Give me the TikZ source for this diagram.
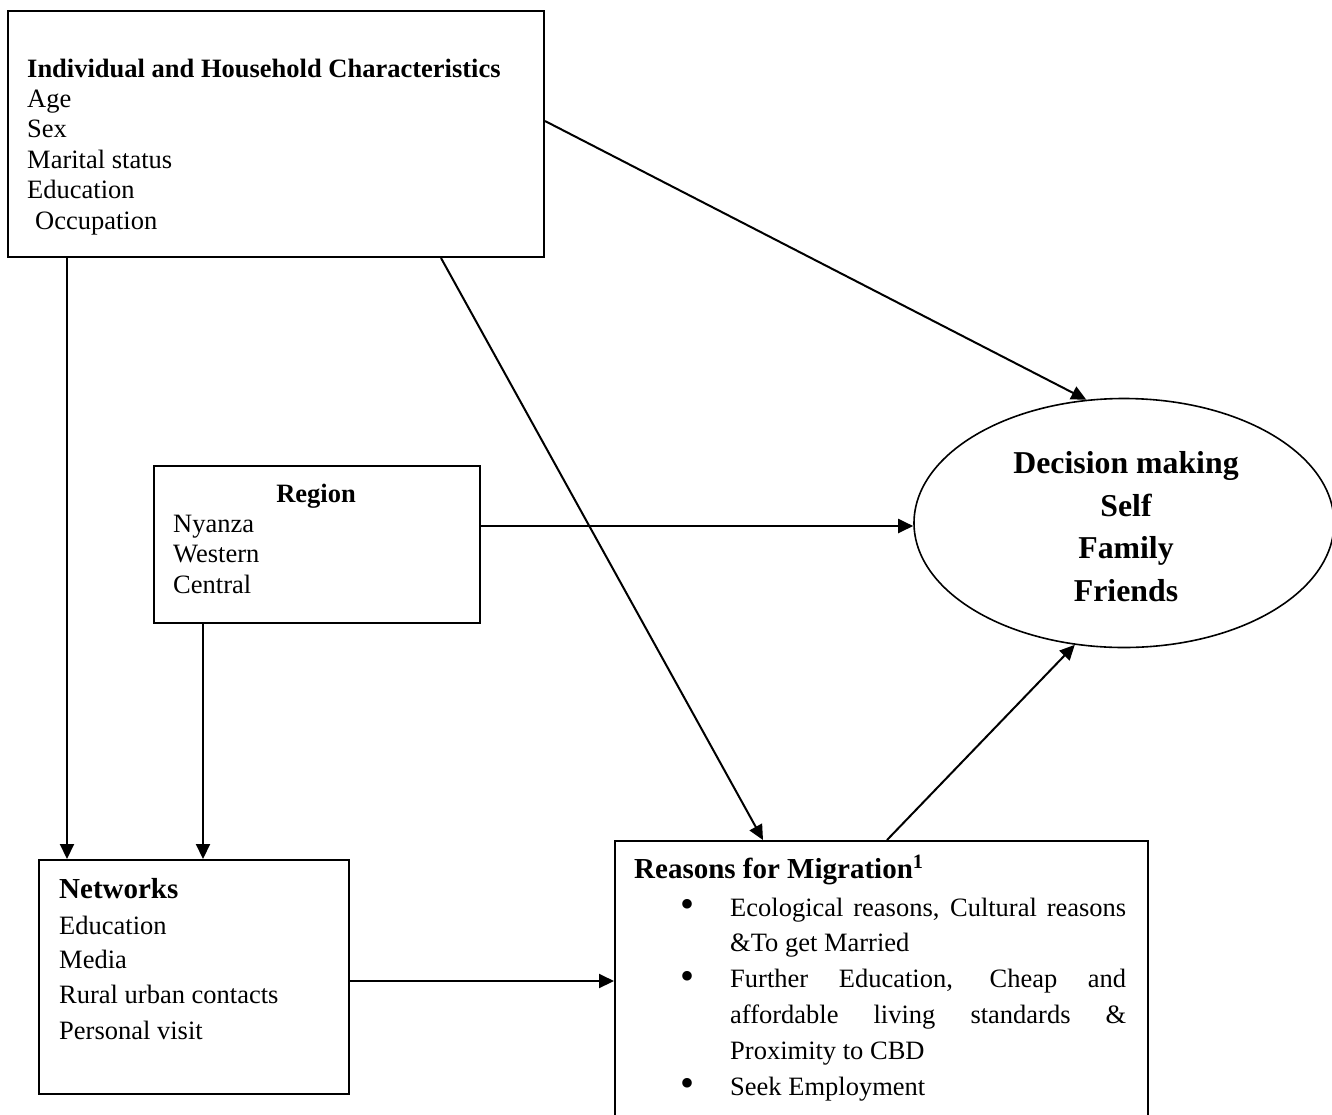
\documentclass[tikz,border=0pt]{standalone}
\usepackage{fontspec}
\setmainfont{Liberation Serif}
\usetikzlibrary{arrows.meta,shapes.geometric}
\tikzset{
  boxnode/.style={draw, line width=2pt, rectangle, inner sep=0pt, anchor=north west},
  txt/.style={inner sep=0pt, anchor=base west, font=\fontsize{26.5}{30}\selectfont},
  btxt/.style={txt, font=\fontsize{26.5}{30}\selectfont\bfseries},
  htxt/.style={txt, font=\fontsize{29}{34}\selectfont\bfseries},
  bul/.style={inner sep=0pt, anchor=center, font=\fontsize{40}{40}\selectfont},
  etxt/.style={inner sep=0pt, anchor=base, font=\fontsize{31.8}{40}\selectfont\bfseries},
  arr/.style={line width=2pt, -{Triangle[length=15pt,width=14pt]}}
}
\begin{document}
\begin{tikzpicture}[x=1pt,y=-1pt]
\useasboundingbox (0,0) rectangle (1332,1114);
\fill[white] (0,0) rectangle (1332,1114);
% boxes
\node[boxnode, minimum width=536pt, minimum height=246pt] (ind) at (7,10) {};
\node[boxnode, minimum width=326pt, minimum height=157pt] (region) at (153,465) {};
\node[boxnode, minimum width=310pt, minimum height=234pt] (net) at (38,859) {};
\node[boxnode, minimum width=533pt, minimum height=290pt] (reasons) at (614,840) {};
\node[draw, line width=1.6pt, ellipse, inner sep=0pt, minimum width=420pt, minimum height=249pt] (dec) at (1124,523) {};
% individual box text
\node[btxt] (indt) at (27,77) {Individual and Household Characteristics};
\node[txt] (ind1) at (27,107.4) {Age};
\node[txt] (ind2) at (27,137.8) {Sex};
\node[txt] (ind3) at (27,168.2) {Marital status};
\node[txt] (ind4) at (27,198.6) {Education};
\node[txt] (ind5) at (35,229) {Occupation};
% region text
\node[btxt, anchor=base] (regt) at (316,502) {Region};
\node[txt] (reg1) at (173,532) {Nyanza};
\node[txt] (reg2) at (173,562.5) {Western};
\node[txt] (reg3) at (173,593) {Central};
% networks text
\node[htxt] (nett) at (59,898) {Networks};
\node[txt] (net1) at (59,934) {Education};
\node[txt] (net2) at (59,968.5) {Media};
\node[txt] (net3) at (59,1003.5) {Rural urban contacts};
\node[txt] (net4) at (59,1039) {Personal visit};
% reasons text
\node[htxt] (reat) at (634,878) {Reasons for Migration\textsuperscript{1}};
\node[bul] (b1) at (687,908.5) {\textbullet};
\node[txt] (r1) at (730,916) {\makebox[396pt][s]{Ecological reasons, Cultural reasons}};
\node[txt] (r2) at (730,951.8) {\&To get Married};
\node[bul] (b2) at (687,980) {\textbullet};
\node[txt] (r3) at (730,987.6) {\makebox[396pt][s]{Further Education, Cheap and}};
\node[txt] (r4) at (730,1023.4) {\makebox[396pt][s]{affordable living standards \&}};
\node[txt] (r5) at (730,1059.2) {Proximity to CBD};
\node[bul] (b3) at (687,1087.5) {\textbullet};
\node[txt] (r6) at (730,1095) {Seek Employment};
% decision text
\node[etxt] (d1) at (1126,473) {Decision making};
\node[etxt] (d2) at (1126,516) {Self};
\node[etxt] (d3) at (1126,558.5) {Family};
\node[etxt] (d4) at (1126,601) {Friends};
% connectors
\draw[arr] ([xshift=60pt]ind.south west) -- ([xshift=60pt]ind.south west |- net.north);
\draw[arr] ([xshift=50pt]region.south west) -- ([xshift=50pt]region.south west |- net.north);
\draw[arr] ([yshift=13pt]ind.east) -- (dec.107);
\draw[arr] ([xshift=434pt]ind.south west) -- ([xshift=149pt]reasons.north west);
\draw[arr] ([yshift=18.5pt]region.east) -- ([yshift=18.5pt]region.east -| dec.west);
\draw[arr] ([yshift=-4pt]net.east) -- ([yshift=-4pt]net.east -| reasons.west);
\draw[arr] ([xshift=273pt]reasons.north west) -- (dec.248);
\end{tikzpicture}
\end{document}
